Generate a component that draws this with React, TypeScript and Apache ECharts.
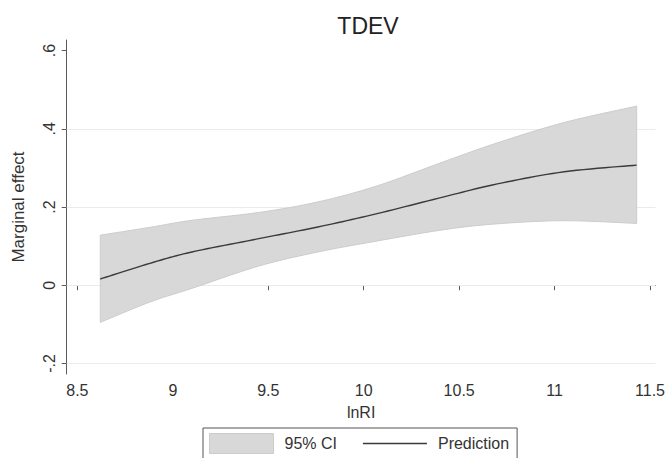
import React, { useEffect, useRef } from "react";
import * as echarts from "echarts";

const xValues = [8.62, 8.88, 9.1, 9.45, 9.76, 10.07, 10.42, 10.7, 11.05, 11.43];
const prediction = [0.016, 0.056, 0.085, 0.119, 0.149, 0.183, 0.226, 0.259, 0.29, 0.307];
const upperCI = [0.128, 0.148, 0.166, 0.186, 0.213, 0.254, 0.316, 0.364, 0.416, 0.458];
const lowerCI = [-0.095, -0.043, -0.008, 0.049, 0.085, 0.113, 0.142, 0.157, 0.165, 0.158];
const xTicks = [8.5, 9, 9.5, 10, 10.5, 11, 11.5];
const yTicks = [-0.2, 0, 0.2, 0.4, 0.6];
const gridLines = [-0.2, 0, 0.2, 0.4];

const FONT = "'Liberation Sans', Arial, sans-serif";

function catmullRom(pts: number[][], steps = 12): number[][] {
  const out: number[][] = [];
  const n = pts.length;
  for (let i = 0; i < n - 1; i++) {
    const p0 = pts[Math.max(0, i - 1)];
    const p1 = pts[i];
    const p2 = pts[i + 1];
    const p3 = pts[Math.min(n - 1, i + 2)];
    for (let s = 0; s < steps; s++) {
      const t = s / steps;
      const t2 = t * t;
      const t3 = t2 * t;
      const f = (a: number, b: number, c: number, d: number) =>
        0.5 * (2 * b + (-a + c) * t + (2 * a - 5 * b + 4 * c - d) * t2 + (-a + 3 * b - 3 * c + d) * t3);
      out.push([f(p0[0], p1[0], p2[0], p3[0]), f(p0[1], p1[1], p2[1], p3[1])]);
    }
  }
  out.push(pts[n - 1]);
  return out;
}

export default function App() {
  const ref = useRef<HTMLDivElement>(null);
  useEffect(() => {
    if (!ref.current) return;
    const chart = echarts.init(ref.current, null, { renderer: "svg" });
    const axisCommon = {
      axisLine: { show: true, lineStyle: { color: "#5a5a5a", width: 1 } },
      axisTick: { show: true, length: 5, lineStyle: { color: "#5a5a5a" } },
      splitLine: { show: false },
    };
    chart.setOption({
      animation: false,
      backgroundColor: "#ffffff",
      textStyle: { fontFamily: FONT },
      title: {
        text: "TDEV",
        left: 363,
        textAlign: "center",
        top: 9,
        textStyle: { fontSize: 23, fontWeight: "normal", color: "#222", fontFamily: FONT },
      },
      grid: { left: 66.7, right: 8.5, top: 40, bottom: 84 },
      xAxis: {
        type: "value",
        min: 8.444,
        max: 11.529,
        name: "lnRI",
        nameLocation: "middle",
        nameGap: 30,
        nameTextStyle: { fontSize: 16, color: "#333", fontFamily: FONT },
        ...axisCommon,
        axisTick: { ...axisCommon.axisTick, customValues: xTicks },
        axisLabel: {
          customValues: xTicks,
          fontSize: 16,
          color: "#333",
          margin: 8,
          fontFamily: FONT,
          formatter: (v: number) => String(v),
        },
      },
      yAxis: {
        type: "value",
        min: -0.227,
        max: 0.627,
        name: "Marginal effect",
        nameLocation: "middle",
        nameGap: 40,
        nameRotate: 90,
        nameTextStyle: { fontSize: 17, color: "#333", fontFamily: FONT },
        ...axisCommon,
        axisTick: { ...axisCommon.axisTick, customValues: yTicks },
        axisLabel: {
          customValues: yTicks,
          rotate: 90,
          fontSize: 16,
          color: "#333",
          margin: 9,
          fontFamily: FONT,
          formatter: (v: number) => {
            if (Math.abs(v) < 1e-9) return "0";
            return (Math.round(v * 10) / 10).toFixed(1).replace("0.", ".");
          },
        },
      },
      legend: {
        show: true,
        left: 203,
        top: 428,
        orient: "horizontal",
        borderColor: "#555",
        borderWidth: 1,
        borderRadius: 0,
        padding: [5, 8, 10, 6],
        itemGap: 26,
        itemWidth: 64,
        itemHeight: 20,
        textStyle: { fontSize: 16, color: "#333", fontFamily: FONT, padding: [0, 0, 0, 6] },
        data: [
          { name: "95% CI", icon: "rect", itemStyle: { color: "#d8d8d8", borderColor: "#cccccc", borderWidth: 1 } },
          { name: "Prediction", icon: "path://M0,0H64V1.5H0Z", itemStyle: { color: "#3a3a3a", borderWidth: 0 } },
        ],
      },
      series: [
        {
          name: "95% CI",
          type: "custom",
          z: 2,
          itemStyle: { color: "#d8d8d8" },
          data: xValues.map((x, i) => [x, lowerCI[i], upperCI[i]]),
          encode: { x: 0, y: [1, 2] },
          renderItem: (params: any, api: any) => {
            if (params.dataIndex !== 0) return null;
            const up = xValues.map((x, i) => api.coord([x, upperCI[i]]));
            const lo = xValues.map((x, i) => api.coord([x, lowerCI[i]]));
            const upS = catmullRom(up);
            const loS = catmullRom(lo).reverse();
            return {
              type: "polygon",
              shape: { points: upS.concat(loS) },
              style: { fill: "#d8d8d8", stroke: "#cccccc", lineWidth: 1 },
            };
          },
          markLine: {
            silent: true,
            symbol: "none",
            z: 1,
            label: { show: false },
            lineStyle: { color: "#ebebeb", type: "solid", width: 1 },
            data: gridLines.map((g) => ({ yAxis: g })),
          },
        },
        {
          name: "Prediction",
          type: "custom",
          z: 3,
          itemStyle: { color: "#3a3a3a" },
          data: xValues.map((x, i) => [x, prediction[i]]),
          encode: { x: 0, y: 1 },
          renderItem: (params: any, api: any) => {
            if (params.dataIndex !== 0) return null;
            const pts = xValues.map((x, i) => api.coord([x, prediction[i]]));
            return {
              type: "polyline",
              shape: { points: catmullRom(pts) },
              style: { fill: null, stroke: "#3a3a3a", lineWidth: 1.4 },
            };
          },
        },
      ],
    });
    return () => chart.dispose();
  }, []);
  return <div ref={ref} style={{ width: 668, height: 458, position: "absolute", left: 0, top: 0 }} />;
}
